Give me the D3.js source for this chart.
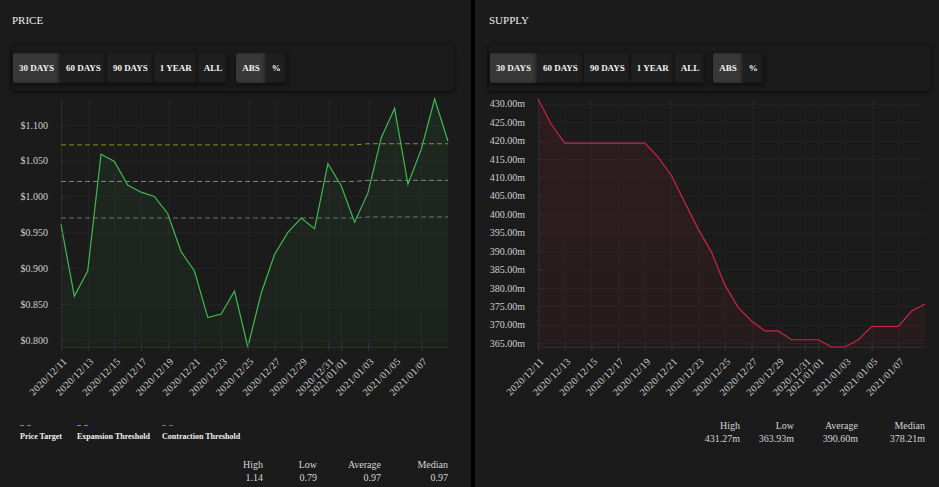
<!DOCTYPE html>
<html>
<head>
<meta charset="utf-8">
<script src="https://cdn.jsdelivr.net/npm/d3@7"></script>
<style>
  body {
    margin: 0;
    width: 939px;
    height: 487px;
    overflow: hidden;
    background: #000;
    font-family: "Liberation Serif", "Times New Roman", serif;
  }
  .panel {
    position: absolute;
    top: 0;
    height: 487px;
    background: #1b1b1b;
  }
  .bar {
    position: absolute;
    top: 45px;
    width: 442px;
    height: 46px;
    display: flex;
    align-items: center;
    padding-left: 1px;
    box-sizing: border-box;
    background: #1a1a1a;
    border-radius: 3px;
    box-shadow: 0 1px 4px rgba(0, 0, 0, 0.7);
  }
  .group {
    display: flex;
    height: 30px;
    margin-right: 8px;
    background: #1f1f1f;
    border-radius: 3px;
    overflow: hidden;
    box-shadow: 0 2px 4px rgba(0, 0, 0, 0.5);
  }
  .btn {
    height: 30px;
    line-height: 31px;
    padding: 0 6px;
    font-size: 9px;
    font-weight: bold;
    color: #f2f2f2;
    box-shadow: inset -2px 0 3px rgba(0, 0, 0, 0.35);
  }
  .btn.on {
    background: #383838;
  }
  svg {
    position: absolute;
    left: 0;
    top: 0;
  }
</style>
</head>
<body>
<div class="panel" style="left:0;width:471px"></div>
<div class="panel" style="left:475px;width:464px"></div>
<script>
// daily points, 30 days
const dateLabels = [
  "2020-12-11", "2020-12-12", "2020-12-13", "2020-12-14", "2020-12-15",
  "2020-12-16", "2020-12-17", "2020-12-18", "2020-12-19", "2020-12-20",
  "2020-12-21", "2020-12-22", "2020-12-23", "2020-12-24", "2020-12-25",
  "2020-12-26", "2020-12-27", "2020-12-28", "2020-12-29", "2020-12-30",
  "2020-12-31", "2021-01-01", "2021-01-02", "2021-01-03", "2021-01-04",
  "2021-01-05", "2021-01-06", "2021-01-07", "2021-01-08", "2021-01-09"
];

const priceValues = [
  0.961, 0.861, 0.896, 1.059, 1.049, 1.016, 1.006, 1.0, 0.976, 0.923,
  0.896, 0.831, 0.836, 0.868, 0.79, 0.865, 0.919, 0.95, 0.97, 0.955,
  1.046, 1.015, 0.964, 1.005, 1.082, 1.123, 1.017, 1.066, 1.136, 1.077
];

const priceTarget = [
  1.021, 1.021, 1.021, 1.021, 1.021, 1.021, 1.021, 1.021, 1.021, 1.021,
  1.021, 1.021, 1.021, 1.021, 1.021, 1.021, 1.021, 1.021, 1.021, 1.021,
  1.021, 1.021, 1.021, 1.0225, 1.0225, 1.0225, 1.0225, 1.0225, 1.0225, 1.0225
];

const expansionThreshold = [
  1.072, 1.072, 1.072, 1.072, 1.072, 1.072, 1.072, 1.072, 1.072, 1.072,
  1.072, 1.072, 1.072, 1.072, 1.072, 1.072, 1.072, 1.072, 1.072, 1.072,
  1.072, 1.072, 1.072, 1.0736, 1.0736, 1.0736, 1.0736, 1.0736, 1.0736, 1.0736
];

const contractionThreshold = [
  0.97, 0.97, 0.97, 0.97, 0.97, 0.97, 0.97, 0.97, 0.97, 0.97,
  0.97, 0.97, 0.97, 0.97, 0.97, 0.97, 0.97, 0.97, 0.97, 0.97,
  0.97, 0.97, 0.97, 0.9714, 0.9714, 0.9714, 0.9714, 0.9714, 0.9714, 0.9714
];

// supply in millions
const supplyValues = [
  431.27, 424.4, 419.3, 419.3, 419.3, 419.3, 419.3, 419.3, 419.3, 415.5,
  410.5, 403.2, 396.0, 389.7, 380.8, 374.7, 371.0, 368.3, 368.3, 365.9,
  365.9, 365.9, 363.93, 363.93, 365.9, 369.5, 369.5, 369.5, 373.7, 375.62
];

const xTickLabels = [
  "2020-12-11", "2020-12-13", "2020-12-15", "2020-12-17", "2020-12-19",
  "2020-12-21", "2020-12-23", "2020-12-25", "2020-12-27", "2020-12-29",
  "2020-12-31", "2021-01-01", "2021-01-03", "2021-01-05", "2021-01-07"
];

const rangeLabels = ["30 DAYS", "60 DAYS", "90 DAYS", "1 YEAR", "ALL"];
const modeLabels = ["ABS", "%"];
const statLabels = ["High", "Low", "Average", "Median"];
const legendLabels = ["Price Target", "Expansion Threshold", "Contraction Threshold"];
const legendColors = ["#858585", "#8f8f1c", "#5d7a86"];

const parseDate = d3.timeParse("%Y-%m-%d");
const dates = dateLabels.map(parseDate);
const xTicks = xTickLabels.map(parseDate);

const svg = d3
  .select("body")
  .append("svg")
  .attr("width", 939)
  .attr("height", 487)
  .style("font-family", '"Liberation Serif", "Times New Roman", serif');

const defs = svg.append("defs");

function addButtons(left) {
  const bar = d3
    .select("body")
    .append("div")
    .attr("class", "bar")
    .style("left", left + 12 + "px");
  [rangeLabels, modeLabels].forEach((labels) => {
    bar
      .append("div")
      .attr("class", "group")
      .selectAll(".btn")
      .data(labels)
      .enter()
      .append("div")
      .attr("class", (d, i) => (i === 0 ? "btn on" : "btn"))
      .text((d) => d);
  });
}

function drawChart(left, name, values, color, yFormat, extraLines, fillOp) {
  const g = svg.append("g").attr("transform", `translate(${left},0)`);
  const top = 99;
  const bottom = 347;

  g.append("text")
    .attr("x", 12)
    .attr("y", 24)
    .attr("fill", "#eeeeee")
    .style("font-size", "11px")
    .text(name);

  const x = d3.scaleTime().domain(d3.extent(dates)).range([61, 448]);
  const y = d3.scaleLinear().domain(d3.extent(values)).range([bottom, top]);
  const data = values.map((v, i) => ({ date: dates[i], value: v }));

  // grid
  const grid = g.append("g").attr("stroke", "#222222").attr("stroke-width", 1);
  grid
    .selectAll(".hgrid")
    .data(y.ticks(10))
    .enter()
    .append("line")
    .attr("x1", 61)
    .attr("x2", 448)
    .attr("y1", (d) => Math.round(y(d)) + 0.5)
    .attr("y2", (d) => Math.round(y(d)) + 0.5);
  grid
    .selectAll(".vgrid")
    .data(xTicks)
    .enter()
    .append("line")
    .attr("x1", (d) => Math.round(x(d)) + 0.5)
    .attr("x2", (d) => Math.round(x(d)) + 0.5)
    .attr("y1", top)
    .attr("y2", bottom);

  // area fill
  const gradId = "grad-" + name;
  const grad = defs
    .append("linearGradient")
    .attr("id", gradId)
    .attr("gradientUnits", "userSpaceOnUse")
    .attr("x1", 0)
    .attr("x2", 0)
    .attr("y1", top)
    .attr("y2", bottom);
  grad.append("stop").attr("offset", 0).attr("stop-color", color).attr("stop-opacity", fillOp[0]);
  grad.append("stop").attr("offset", 1).attr("stop-color", color).attr("stop-opacity", fillOp[1]);

  const area = d3
    .area()
    .x((d) => x(d.date))
    .y0(bottom)
    .y1((d) => y(d.value));
  g.append("path").datum(data).attr("d", area).attr("fill", `url(#${gradId})`);

  // axis lines
  g.append("line")
    .attr("x1", 61.5).attr("x2", 61.5)
    .attr("y1", top).attr("y2", bottom)
    .attr("stroke", "#2c2c2c");
  g.append("line")
    .attr("x1", 61).attr("x2", 448)
    .attr("y1", bottom + 0.5).attr("y2", bottom + 0.5)
    .attr("stroke", "#2c2c2c");

  // threshold lines
  extraLines.forEach((ln) => {
    const lineGen = d3
      .line()
      .x((d, i) => x(dates[i]))
      .y((d) => y(d));
    g.append("path")
      .datum(ln.values)
      .attr("d", lineGen)
      .attr("fill", "none")
      .attr("stroke", ln.color)
      .attr("stroke-width", 1)
      .attr("stroke-dasharray", "5,3");
  });

  const line = d3
    .line()
    .x((d) => x(d.date))
    .y((d) => y(d.value));
  g.append("path")
    .datum(data)
    .attr("d", line)
    .attr("fill", "none")
    .attr("stroke", color)
    .attr("stroke-width", 1.2);

  // y axis
  const yAxis = g
    .append("g")
    .attr("transform", "translate(61,0)")
    .call(d3.axisLeft(y).ticks(10).tickFormat(yFormat).tickSize(6).tickPadding(7));
  yAxis.select(".domain").remove();
  yAxis.selectAll(".tick line").attr("stroke", "#333").attr("x2", 4);
  yAxis
    .selectAll("text")
    .attr("fill", "#cfcfcf")
    .style("font-size", "10px")
    .style("font-family", '"Liberation Serif", "Times New Roman", serif');

  // x axis
  const xAxis = g
    .append("g")
    .attr("transform", `translate(0,${bottom})`)
    .call(d3.axisBottom(x).tickValues(xTicks).tickFormat(d3.timeFormat("%Y/%m/%d")).tickSize(4));
  xAxis.select(".domain").remove();
  xAxis.selectAll(".tick line").attr("stroke", "#333").attr("y1", -4);
  xAxis
    .selectAll("text")
    .attr("y", 0)
    .attr("dy", "0.71em")
    .attr("text-anchor", "end")
    .attr("transform", "translate(1,10) rotate(-45)")
    .attr("fill", "#cfcfcf")
    .style("font-size", "10px")
    .style("letter-spacing", "0.3px")
    .style("font-family", '"Liberation Serif", "Times New Roman", serif');

  return g;
}

function drawStats(g, values, fmt, labelY) {
  const stats = [d3.max(values), d3.min(values), d3.mean(values), d3.median(values)];
  const colX = [263, 317, 381, 448];
  g.selectAll(".statLabel")
    .data(statLabels)
    .enter()
    .append("text")
    .attr("x", (d, i) => colX[i])
    .attr("y", labelY)
    .attr("text-anchor", "end")
    .attr("fill", "#d4d4d4")
    .style("font-size", "10px")
    .text((d) => d);
  g.selectAll(".statValue")
    .data(stats)
    .enter()
    .append("text")
    .attr("x", (d, i) => colX[i])
    .attr("y", labelY + 13)
    .attr("text-anchor", "end")
    .attr("fill", "#d4d4d4")
    .style("font-size", "10px")
    .text((d) => fmt(d));
}

// PRICE panel
addButtons(0);
const priceG = drawChart(0, "PRICE", priceValues, "#3fb950", d3.format("$.3f"), [
  { values: priceTarget, color: legendColors[0] },
  { values: expansionThreshold, color: legendColors[1] },
  { values: contractionThreshold, color: legendColors[2] },
], [0.09, 0.04]);

const legendX = [20, 77, 162];
const legend = priceG
  .selectAll(".legend")
  .data(legendLabels)
  .enter()
  .append("g")
  .attr("transform", (d, i) => `translate(${legendX[i]},0)`);
legend
  .append("line")
  .attr("x1", 0)
  .attr("x2", 11)
  .attr("y1", 425.5)
  .attr("y2", 425.5)
  .attr("stroke", (d, i) => legendColors[i])
  .attr("stroke-dasharray", "4,3");
legend
  .append("text")
  .attr("y", 439)
  .attr("fill", "#f0f0f0")
  .style("font-size", "8px")
  .style("font-weight", "bold")
  .text((d) => d);

drawStats(priceG, priceValues, d3.format(".2f"), 468);

// SUPPLY panel
addButtons(477);
const supplyFmt = (v) => d3.format(".2f")(v) + "m";
const supplyG = drawChart(477, "SUPPLY", supplyValues, "#cc2444", supplyFmt, [], [0.11, 0.06]);
drawStats(supplyG, supplyValues, supplyFmt, 429);
</script>
</body>
</html>
